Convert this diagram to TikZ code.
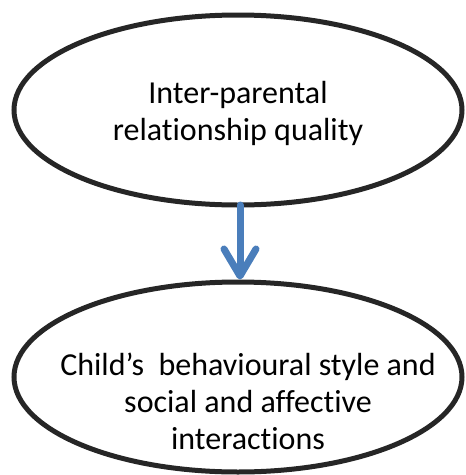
\documentclass[tikz,border=0pt]{standalone}
\usepackage{fontspec}
\setmainfont[Ligatures={NoCommon}]{Carlito}
\usetikzlibrary{arrows.meta,shapes.geometric}
\definecolor{arrowblue}{HTML}{4A7EBB}
\definecolor{edgegray}{HTML}{262626}
\tikzset{
  bubble/.style={ellipse, draw=edgegray, line width=5pt, minimum width=448pt, minimum height=190pt, inner sep=0pt},
  label/.style={align=center, font=\fontsize{32}{37}\selectfont, inner sep=0pt, text=black},
  flow/.style={draw=arrowblue, line width=7pt, line cap=round, -{Straight Barb[length=27pt, width=32pt, round]}}
}
\begin{document}
\begin{tikzpicture}[x=1pt, y=-1pt]
\useasboundingbox (0,0) rectangle (466,475);
\node[bubble] (top) at (238,110) {};
\node[bubble] (bottom) at (238,377) {};
\node[label] (toptext) at (238,113) {Inter-parental\\relationship quality};
\node[label] (bottomtext) at (248,401) {Child’s\ \ behavioural style and\\social and affective\\interactions};
\draw[flow] (240,205) -- (bottom.north -| 240,0);
\end{tikzpicture}
\end{document}
